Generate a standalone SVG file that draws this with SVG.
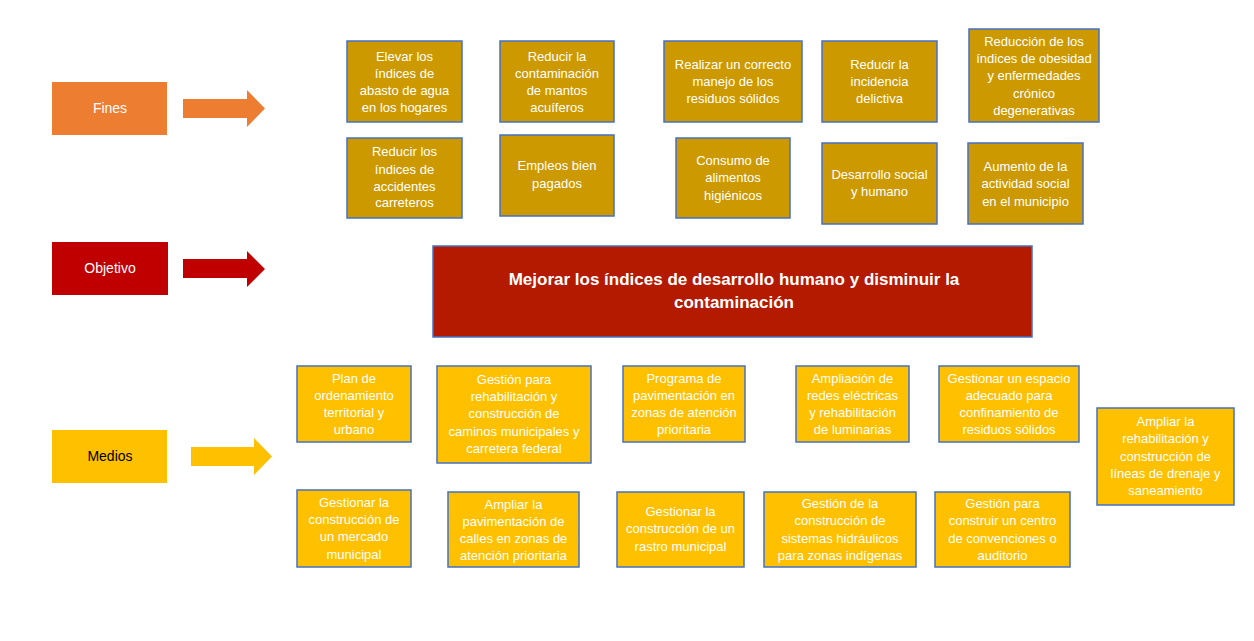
<svg xmlns="http://www.w3.org/2000/svg" width="1254" height="641" viewBox="0 0 1254 641">
<style>
text{font-family:"Liberation Sans",Arial,sans-serif;text-anchor:middle}
.lab{font-size:14px;fill:#fff}
.fin rect{fill:#CC9900;stroke:#4472C4;stroke-width:1.5}
.med rect{fill:#FFC000;stroke:#4472C4;stroke-width:1.5}
.fin text,.med text{font-size:13px;fill:#fff}
.obj rect{fill:#B41A00;stroke:#4472C4;stroke-width:1.5}
.obj text{font-size:17px;font-weight:bold;fill:#fff}
</style>
<rect width="1254" height="641" fill="#fff"/>
<g id="lbl-fines"><rect x="52" y="82" width="115" height="53" fill="#ED7D31"/><text class="lab" x="110" y="113">Fines</text></g>
<g id="lbl-objetivo"><rect x="52" y="242" width="116" height="53" fill="#C00000"/><text class="lab" x="110" y="273">Objetivo</text></g>
<g id="lbl-medios"><rect x="52" y="430" width="115" height="53" fill="#FFC000"/><text class="lab" x="110" y="461" style="fill:#000">Medios</text></g>
<g id="connectors">
<polygon points="183,99 247,99 247,90 265,108.5 247,127 247,118 183,118" fill="#ED7D31"/>
<polygon points="183,259 247,259 247,251 265,269 247,287 247,278 183,278" fill="#C00000"/>
<polygon points="191,447 254,447 254,438 272,456.5 254,475 254,466 191,466" fill="#FFC000"/>
</g>
<g id="f1" class="fin"><rect x="347" y="41" width="115" height="81"/><text x="404.5" y="60.5">Elevar los</text><text x="404.5" y="77.5">índices de</text><text x="404.5" y="94.5">abasto de agua</text><text x="404.5" y="111.5">en los hogares</text></g>
<g id="f2" class="fin"><rect x="500" y="41" width="114" height="81"/><text x="557" y="60.5">Reducir la</text><text x="557" y="77.5">contaminación</text><text x="557" y="94.5">de mantos</text><text x="557" y="111.5">acuíferos</text></g>
<g id="f3" class="fin"><rect x="664" y="41" width="138" height="81"/><text x="733" y="69">Realizar un correcto</text><text x="733" y="86">manejo de los</text><text x="733" y="103">residuos sólidos</text></g>
<g id="f4" class="fin"><rect x="822" y="41" width="115" height="81"/><text x="879.5" y="69">Reducir la</text><text x="879.5" y="86">incidencia</text><text x="879.5" y="103">delictiva</text></g>
<g id="f5" class="fin"><rect x="969" y="29" width="130" height="93"/><text x="1034" y="45.5">Reducción de los</text><text x="1034" y="62.5">índices de obesidad</text><text x="1034" y="80">y enfermedades</text><text x="1034" y="97.5">crónico</text><text x="1034" y="115">degenerativas</text></g>
<g id="f6" class="fin"><rect x="347" y="138" width="115" height="80"/><text x="404.5" y="156">Reducir los</text><text x="404.5" y="173.5">índices de</text><text x="404.5" y="190.5">accidentes</text><text x="404.5" y="207">carreteros</text></g>
<g id="f7" class="fin"><rect x="500" y="135" width="114" height="81"/><text x="557" y="169.5">Empleos bien</text><text x="557" y="187.5">pagados</text></g>
<g id="f8" class="fin"><rect x="676" y="138" width="114" height="80"/><text x="733" y="165">Consumo de</text><text x="733" y="182">alimentos</text><text x="733" y="199.5">higiénicos</text></g>
<g id="f9" class="fin"><rect x="822" y="143" width="115" height="81"/><text x="879.5" y="178.5">Desarrollo social</text><text x="879.5" y="195.5">y humano</text></g>
<g id="f10" class="fin"><rect x="968" y="143" width="115" height="81"/><text x="1025.5" y="171">Aumento de la</text><text x="1025.5" y="188">actividad social</text><text x="1025.5" y="205.5">en el municipio</text></g>
<g id="objetivo" class="obj"><rect x="433" y="246" width="599" height="91"/><text x="734" y="285">Mejorar los índices de desarrollo humano y disminuir la</text><text x="734" y="308">contaminación</text></g>
<g id="m1" class="med"><rect x="297" y="366" width="114" height="76"/><text x="354" y="383">Plan de</text><text x="354" y="399.5">ordenamiento</text><text x="354" y="417">territorial y</text><text x="354" y="434">urbano</text></g>
<g id="m2" class="med"><rect x="437" y="366" width="154" height="97"/><text x="514" y="384">Gestión para</text><text x="514" y="401">rehabilitación y</text><text x="514" y="418">construcción de</text><text x="514" y="435.5">caminos municipales y</text><text x="514" y="453">carretera federal</text></g>
<g id="m3" class="med"><rect x="623" y="366" width="122" height="76"/><text x="684" y="383">Programa de</text><text x="684" y="399.5">pavimentación en</text><text x="684" y="417">zonas de atención</text><text x="684" y="434">prioritaria</text></g>
<g id="m4" class="med"><rect x="796" y="366" width="113" height="76"/><text x="852.5" y="383">Ampliación de</text><text x="852.5" y="399.5">redes eléctricas</text><text x="852.5" y="417">y rehabilitación</text><text x="852.5" y="434">de luminarias</text></g>
<g id="m5" class="med"><rect x="939" y="366" width="140" height="76"/><text x="1009" y="383">Gestionar un espacio</text><text x="1009" y="399.5">adecuado para</text><text x="1009" y="417">confinamiento de</text><text x="1009" y="434">residuos sólidos</text></g>
<g id="m6" class="med"><rect x="1097" y="408" width="137" height="97"/><text x="1165.5" y="426">Ampliar la</text><text x="1165.5" y="443">rehabilitación y</text><text x="1165.5" y="460.5">construcción de</text><text x="1165.5" y="478">líneas de drenaje y</text><text x="1165.5" y="494.5">saneamiento</text></g>
<g id="m7" class="med"><rect x="297" y="490" width="114" height="77"/><text x="354" y="507">Gestionar la</text><text x="354" y="524">construcción de</text><text x="354" y="541">un mercado</text><text x="354" y="558.5">municipal</text></g>
<g id="m8" class="med"><rect x="448" y="492" width="131" height="75"/><text x="513.5" y="508.5">Ampliar la</text><text x="513.5" y="525.5">pavimentación de</text><text x="513.5" y="542.5">calles en zonas de</text><text x="513.5" y="559.5">atención prioritaria</text></g>
<g id="m9" class="med"><rect x="617" y="492" width="127" height="75"/><text x="680.5" y="516">Gestionar la</text><text x="680.5" y="533">construcción de un</text><text x="680.5" y="550.5">rastro municipal</text></g>
<g id="m10" class="med"><rect x="764" y="492" width="152" height="75"/><text x="840" y="508">Gestión de la</text><text x="840" y="524.5">construcción de</text><text x="840" y="542.5">sistemas hidráulicos</text><text x="840" y="559.5">para zonas indígenas</text></g>
<g id="m11" class="med"><rect x="935" y="492" width="135" height="75"/><text x="1002.5" y="508">Gestión para</text><text x="1002.5" y="524.5">construir un centro</text><text x="1002.5" y="542.5">de convenciones o</text><text x="1002.5" y="559.5">auditorio</text></g>
</svg>
